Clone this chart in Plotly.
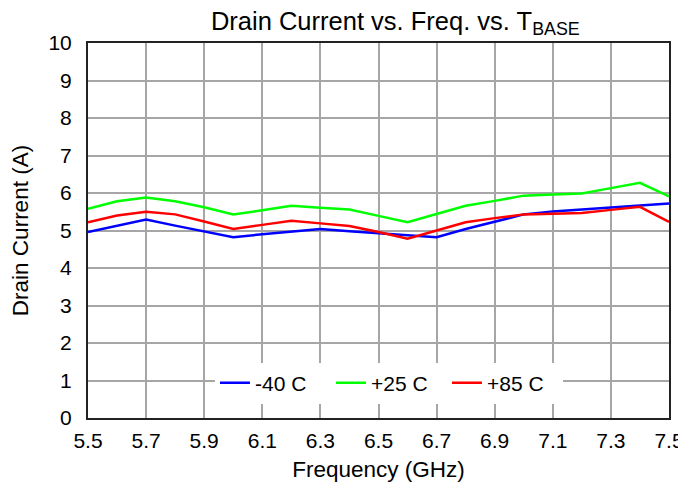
import plotly.graph_objects as go

freq = [5.5, 5.6, 5.7, 5.8, 5.9, 6.0, 6.1, 6.2, 6.3, 6.4, 6.5,
        6.6, 6.7, 6.8, 6.9, 7.0, 7.1, 7.2, 7.3, 7.4, 7.5]
cur_m40 = [4.96, 5.13, 5.29, 5.13, 4.98, 4.82, 4.90, 4.97, 5.04, 4.98, 4.93,
           4.87, 4.82, 5.04, 5.24, 5.43, 5.51, 5.57, 5.63, 5.67, 5.72]
cur_p25 = [5.58, 5.78, 5.88, 5.78, 5.62, 5.43, 5.54, 5.66, 5.61, 5.56, 5.39,
           5.22, 5.44, 5.66, 5.79, 5.93, 5.96, 5.99, 6.13, 6.27, 5.91]
cur_p85 = [5.22, 5.40, 5.50, 5.43, 5.24, 5.04, 5.15, 5.26, 5.19, 5.12, 4.96,
           4.78, 5.00, 5.22, 5.33, 5.43, 5.45, 5.47, 5.55, 5.63, 5.23]
series_names = ["-40 C", "+25 C", "+85 C"]
series_colors = ["#0000ff", "#00ff00", "#ff0000"]
x_ticks = [5.5, 5.7, 5.9, 6.1, 6.3, 6.5, 6.7, 6.9, 7.1, 7.3, 7.5]

fig = go.Figure()
for name, ys, col in zip(series_names, [cur_m40, cur_p25, cur_p85], series_colors):
    fig.add_trace(go.Scatter(x=freq, y=ys, mode="lines", name=name,
                             line=dict(color=col, width=2.5)))

font = "Arial, Liberation Sans, sans-serif"
fig.update_layout(
    width=678, height=477,
    margin=dict(l=80, r=17, t=35, b=67),
    paper_bgcolor="white", plot_bgcolor="white",
    font=dict(family=font, size=21, color="black"),
    title=dict(text="Drain Current vs. Freq. vs. T<sub>BASE</sub>",
               xref="paper", x=0.529, xanchor="center", y=0.973, yanchor="middle",
               font=dict(size=25.5, family=font, color="black")),
    showlegend=True,
    legend=dict(orientation="h", x=0.518, xanchor="center", y=0.093, yanchor="middle",
                bgcolor="white", font=dict(size=21, family=font),
                itemwidth=30, tracegroupgap=0, entrywidth=71),
    xaxis=dict(range=[5.5, 7.5], tickvals=x_ticks, ticktext=[f"{v:.1f}" for v in x_ticks],
               showgrid=True, gridcolor="#a6a6a6", gridwidth=1.5,
               showline=True, linecolor="#222222", linewidth=2, mirror=True,
               ticks="", zeroline=False, automargin=False, ticklabelstandoff=3,
               tickfont=dict(size=21),
               title=dict(text="Frequency (GHz)", font=dict(size=22.5), standoff=10)),
    yaxis=dict(range=[0, 10], dtick=1,
               showgrid=True, gridcolor="#a6a6a6", gridwidth=1.5,
               showline=True, linecolor="#222222", linewidth=2, mirror=True,
               ticks="", zeroline=False, automargin=False, ticklabelstandoff=10,
               tickfont=dict(size=21),
               title=dict(text="Drain Current (A)", font=dict(size=22.5), standoff=24)),
)
fig.write_html("out.html")
